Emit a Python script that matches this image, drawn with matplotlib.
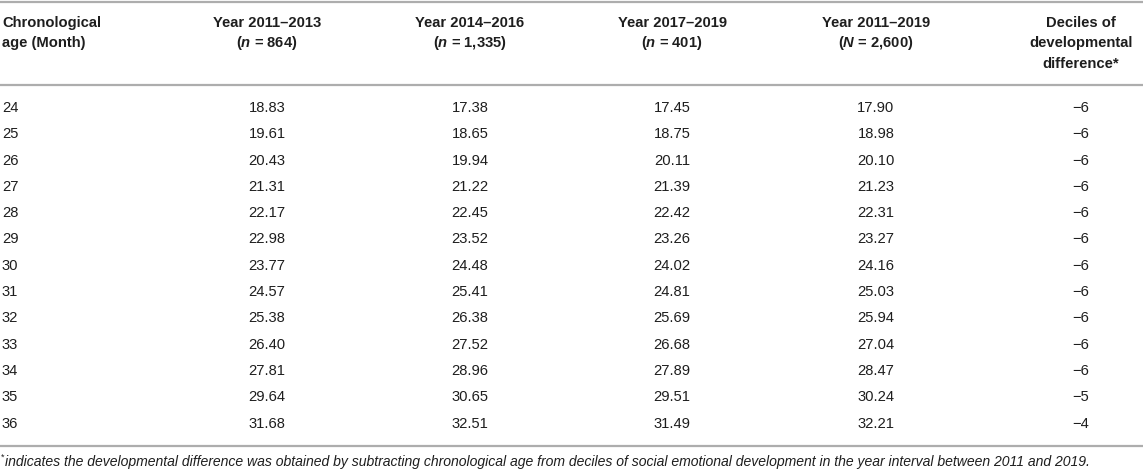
import matplotlib
matplotlib.use("Agg")
import matplotlib.pyplot as plt

months = [24, 25, 26, 27, 28, 29, 30, 31, 32, 33, 34, 35, 36]
y2011_2013 = ["18.83", "19.61", "20.43", "21.31", "22.17", "22.98", "23.77", "24.57", "25.38", "26.40", "27.81", "29.64", "31.68"]
y2014_2016 = ["17.38", "18.65", "19.94", "21.22", "22.45", "23.52", "24.48", "25.41", "26.38", "27.52", "28.96", "30.65", "32.51"]
y2017_2019 = ["17.45", "18.75", "20.11", "21.39", "22.42", "23.26", "24.02", "24.81", "25.69", "26.68", "27.89", "29.51", "31.49"]
y2011_2019 = ["17.90", "18.98", "20.10", "21.23", "22.31", "23.27", "24.16", "25.03", "25.94", "27.04", "28.47", "30.24", "32.21"]
deciles = [-6, -6, -6, -6, -6, -6, -6, -6, -6, -6, -6, -5, -4]

headers = [
    ["Chronological", "age (Month)"],
    ["Year 2011\u20132013", "($n$ = 864)"],
    ["Year 2014\u20132016", "($n$ = 1,335)"],
    ["Year 2017\u20132019", "($n$ = 401)"],
    ["Year 2011\u20132019", "($N$ = 2,600)"],
    ["Deciles of", "developmental", "difference*"],
]
footnote = ("indicates the developmental difference was obtained by subtracting chronological age "
            "from deciles of social emotional development in the year interval between 2011 and 2019.")

plt.rcParams["font.family"] = ["Liberation Sans", "DejaVu Sans"]
plt.rcParams["mathtext.fontset"] = "custom"
plt.rcParams["mathtext.it"] = "Liberation Sans:bold:italic"
plt.rcParams["mathtext.rm"] = "Liberation Sans:bold"
plt.rcParams["mathtext.bf"] = "Liberation Sans:bold"

W, H = 1143, 477
fig = plt.figure(figsize=(W / 100, H / 100), dpi=100)
ax = fig.add_axes([0, 0, 1, 1])
ax.set_xlim(0, W)
ax.set_ylim(H, 0)
ax.axis("off")

txt = "#1e1e1e"
rule = "#adadad"
fs = 10.6

col_x = [2, 267, 470, 672, 876, 1081]
hdr_y0, hdr_dy = 23, 20.5
row_y0, row_dy = 108, 26.3

# rules
for yy in [3, 86, 447]:
    ax.plot([0, W], [yy, yy], color=rule, lw=1.6, solid_capstyle="butt")

# headers
for i, lines in enumerate(headers):
    for j, s in enumerate(lines):
        ax.text(col_x[i], hdr_y0 + j * hdr_dy, s, ha="left" if i == 0 else "center",
                va="center", fontsize=fs, fontweight="bold", color=txt)

# rows
cols = [y2011_2013, y2014_2016, y2017_2019, y2011_2019]
for r, m in enumerate(months):
    yy = row_y0 + r * row_dy
    ax.text(col_x[0], yy, str(m), ha="left", va="center", fontsize=fs, color=txt)
    for c, vals in enumerate(cols):
        ax.text(col_x[c + 1], yy, vals[r], ha="center", va="center", fontsize=fs, color=txt)
    ax.text(col_x[5], yy, "\u2212" + str(abs(deciles[r])), ha="center", va="center",
            fontsize=fs, color=txt)

# footnote
ax.text(1, 457, "*", ha="left", va="center", fontsize=6.5, color=txt)
ax.text(5, 462, footnote, ha="left", va="center", fontsize=10.1, style="italic", color=txt)

fig.savefig("out.png", dpi=100)
